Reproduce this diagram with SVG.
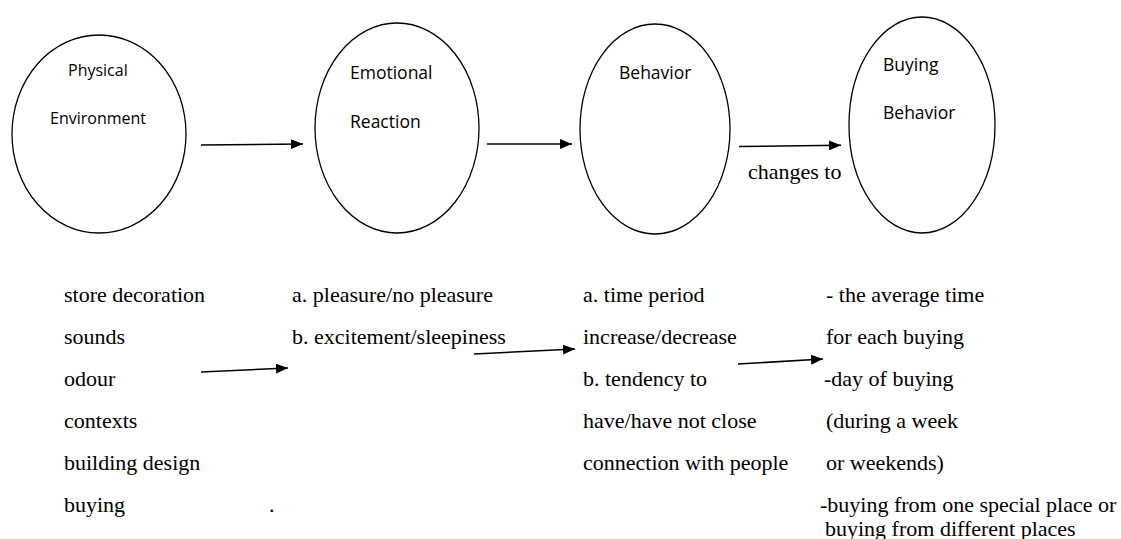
<svg xmlns="http://www.w3.org/2000/svg" width="1121" height="539" viewBox="0 0 1121 539">
<defs>
<style>
.node ellipse{fill:#fff;stroke:#000;stroke-width:1.3}
.lbl{font-family:"Open Sans","Noto Sans",sans-serif;fill:#000}
.t{font-family:"Liberation Serif","Times New Roman",serif;font-size:22px;fill:#000}
.conn line{stroke:#000;stroke-width:1.6;fill:none}
</style>
<marker id="ah" markerWidth="12" markerHeight="10" refX="12" refY="5" orient="auto" markerUnits="userSpaceOnUse">
<path d="M0,0 L12,5 L0,10 Z" fill="#000"/>
</marker>
</defs>
<rect width="1121" height="539" fill="#fff"/>
<g id="n1" class="node">
<ellipse cx="99" cy="134" rx="87" ry="99"/>
<text class="lbl" x="68" y="76" font-size="16">Physical</text>
<text class="lbl" x="50" y="124" font-size="16">Environment</text>
</g>
<g id="n2" class="node">
<ellipse cx="397" cy="128" rx="82" ry="105"/>
<text class="lbl" x="350" y="79" font-size="17.5">Emotional</text>
<text class="lbl" x="350" y="128" font-size="17.5">Reaction</text>
</g>
<g id="n3" class="node">
<ellipse cx="655" cy="129" rx="75" ry="105"/>
<text class="lbl" x="619" y="79" font-size="17.5">Behavior</text>
</g>
<g id="n4" class="node">
<ellipse cx="922" cy="125" rx="73" ry="108"/>
<text class="lbl" x="883" y="71" font-size="17.5">Buying</text>
<text class="lbl" x="883" y="119" font-size="17.5">Behavior</text>
</g>
<g id="connectors" class="conn">
<line x1="201" y1="145" x2="303" y2="144" marker-end="url(#ah)"/>
<line x1="487" y1="144" x2="572" y2="144" marker-end="url(#ah)"/>
<line x1="739" y1="146.5" x2="841" y2="145.3" marker-end="url(#ah)"/>
<line x1="201" y1="372" x2="288" y2="368" marker-end="url(#ah)"/>
<line x1="474" y1="354" x2="575" y2="349" marker-end="url(#ah)"/>
<line x1="738" y1="364" x2="823" y2="359" marker-end="url(#ah)"/>
</g>
<text class="t" x="748" y="179">changes to</text>
<g id="col1">
<text class="t" x="64" y="302">store decoration</text>
<text class="t" x="64" y="344">sounds</text>
<text class="t" x="64" y="386">odour</text>
<text class="t" x="64" y="428">contexts</text>
<text class="t" x="64" y="470">building design</text>
<text class="t" x="64" y="512">buying</text>
</g>
<g id="col2">
<text class="t" x="292" y="302">a. pleasure/no pleasure</text>
<text class="t" x="292" y="344">b. excitement/sleepiness</text>
<text class="t" x="269" y="512">.</text>
</g>
<g id="col3">
<text class="t" x="583" y="302">a. time period</text>
<text class="t" x="583" y="344">increase/decrease</text>
<text class="t" x="583" y="386">b. tendency to</text>
<text class="t" x="583" y="428">have/have not close</text>
<text class="t" x="583" y="470">connection with people</text>
</g>
<g id="col4">
<text class="t" x="826" y="302">- the average time</text>
<text class="t" x="826" y="344">for each buying</text>
<text class="t" x="824" y="386">-day of buying</text>
<text class="t" x="826" y="428">(during a week</text>
<text class="t" x="826" y="470">or weekends)</text>
<text class="t" x="820" y="512">-buying from one special place or</text>
<text class="t" x="825" y="536">buying from different places</text>
</g>
</svg>
